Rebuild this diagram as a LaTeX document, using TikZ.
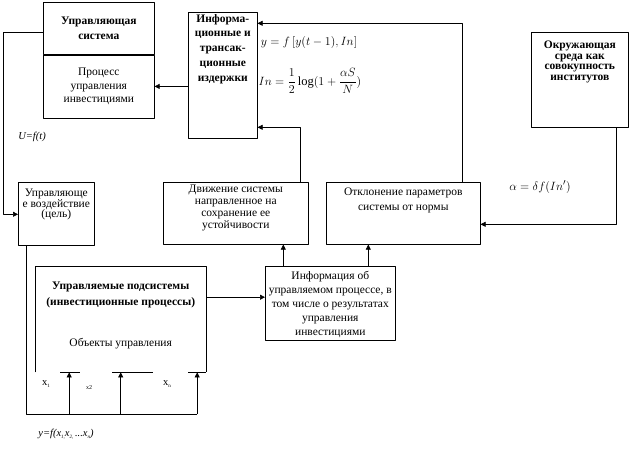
\documentclass[tikz,border=0pt]{standalone}
\usepackage{fontspec}
\setmainfont{Liberation Serif}
\usetikzlibrary{arrows.meta,positioning}
% text blocks of fixed size: top aligned / centred
\newcommand{\tbox}[4]{\parbox[c][#2pt][t]{#1pt}{\centering\vspace*{#3pt}#4\par}}
\newcommand{\cbox}[3]{\parbox[c][#2pt][c]{#1pt}{\centering #3\par}}
\begin{document}
\begin{tikzpicture}[x=1pt,y=-1pt, line join=round,
	font=\fontsize{11.5}{13.5}\selectfont,
	blk/.style={draw, line width=.6pt, inner sep=0pt, anchor=north west},
	wire/.style={line width=.6pt},
	tip/.style={wire, -{Triangle[length=5pt,width=5pt]}},
	frm/.style={font=\fontsize{12.5}{14}\selectfont}]
	\useasboundingbox (0,0) rectangle (643,457);
	% boxes
	\node[blk, font=\bfseries\fontsize{11.5}{15}\selectfont] (ctrl) at (43,2) {\cbox{111}{52}{Управляющая\\система}};
	\node[blk, below=0pt of ctrl] (proc) {\cbox{111}{63}{Процесс\\управления\\инвестициями}};
	\node[blk, font=\bfseries\fontsize{11.5}{14.7}\selectfont] (info) at (188,12) {\tbox{69}{126}{2}{Информа-\\ционные и\\трансак-\\ционные\\издержки}};
	\node[blk, font=\fontsize{11.5}{10.5}\selectfont] (vozd) at (18,182) {\tbox{76}{63}{7}{Управляюще\\е воздействие\\(цель)}};
	\node[blk, font=\fontsize{11.5}{12}\selectfont] (dvizh) at (163,182) {\tbox{145}{62}{2.5}{Движение системы\\направленное на\\сохранение ее\\устойчивости}};
	\node[blk, font=\fontsize{11.5}{15}\selectfont] (otkl) at (326,182) {\tbox{154}{62}{6}{Отклонение параметров\\системы от нормы}};
	\node[blk, font=\bfseries\fontsize{11.5}{10.5}\selectfont] (okr) at (531,32) {\tbox{97}{95}{9}{Окружающая\\среда как\\совокупность\\институтов}};
	\node[anchor=north west, inner sep=0pt, font=\fontsize{11.5}{16}\selectfont] (upr) at (35,266) {\tbox{171}{106}{16}{{\bfseries Управляемые подсистемы\\(инвестиционные процессы)\par}\vspace{25pt}Объекты управления}};
	\node[blk, font=\fontsize{11.5}{14}\selectfont] (inf) at (265,266) {\tbox{130}{74}{5}{Информация об\\управляемом процессе, в\\том числе о результатах\\управления\\инвестициями}};
	% open box of the controlled subsystems
	\draw[wire] (upr.south west) -- (upr.north west) -- (upr.north east) -- (upr.south east);
	\draw[wire] ([xshift=25pt]upr.south west) -- ++(20,0) ([xshift=77pt]upr.south west) -- ++(41,0) ([xshift=-18pt]upr.south east) -- (upr.south east);
	% coordinates
	\coordinate (i1) at ([xshift=-47pt]inf.north);
	\coordinate (i2) at ([xshift=38pt]inf.north);
	\coordinate (o1) at ([xshift=36.5pt]okr.south);
	\coordinate (o2) at ([yshift=-11pt]otkl.east);
	\coordinate (o3) at ([xshift=59pt]otkl.north);
	\coordinate (d1) at ([xshift=64.5pt]dvizh.north);
	\coordinate (e1) at ([yshift=52pt]info.east);
	\coordinate (e2) at ([yshift=-52pt]info.east);
	\coordinate (u1) at ([yshift=22pt]upr.east);
	% connectors
	\draw[tip] (info.west |- proc.east) -- (proc.east);
	\draw[tip] ([yshift=-4pt]ctrl.west) -- ++(-40,0) |- ([yshift=-0.5pt]vozd.west);
	\draw[wire] ([xshift=8pt]vozd.south west) |- ([xshift=76.5pt,yshift=-42pt]upr.south);
	\foreach \dx in {-51.5,0,76.5}
		\draw[tip] ([xshift=\dx pt]upr.south) ++(0,42) -- ([xshift=\dx pt]upr.south);
	\draw[tip] (u1) -- (u1 -| inf.west);
	\draw[tip] (i1) -- (i1 |- dvizh.south);
	\draw[tip] (i2) -- (i2 |- otkl.south);
	\draw[tip] (o1) |- (o2);
	\draw[tip] (o3) |- (e1);
	\draw[tip] (d1) |- (e2);
	% labels
	\node (uf) at (32,137) {\fontsize{10.5}{10}\selectfont\itshape U=f(t)};
	\node (x1) at (46,384) {\fontsize{10.5}{10}\selectfont x\raisebox{-2pt}{\fontsize{5}{5}\selectfont 1}};
	\node (x2) at (89,388) {\fontsize{6}{6}\selectfont x2};
	\node (xn) at (167,384) {\fontsize{10.5}{10}\selectfont x\raisebox{-2pt}{\fontsize{5}{5}\selectfont n}};
	\node (yf) at (66,434) {\fontsize{10.5}{10}\selectfont\itshape y=f(x\raisebox{-2pt}{\fontsize{5}{5}\selectfont 1,}x\raisebox{-2pt}{\fontsize{5}{5}\selectfont 2,}\,...x\raisebox{-2pt}{\fontsize{5}{5}\selectfont n})};
	\node[frm] (fy) at (309,43) {$y=f\left[y(t-1),In\right]$};
	\node[frm] (fin) at (310,81) {$\displaystyle In=\frac{1}{2}\log(1+\frac{\alpha S}{N})$};
	\node[frm] (fa) at (540,187) {$\alpha=\delta f(In^{\prime})$};
\end{tikzpicture}
\end{document}
